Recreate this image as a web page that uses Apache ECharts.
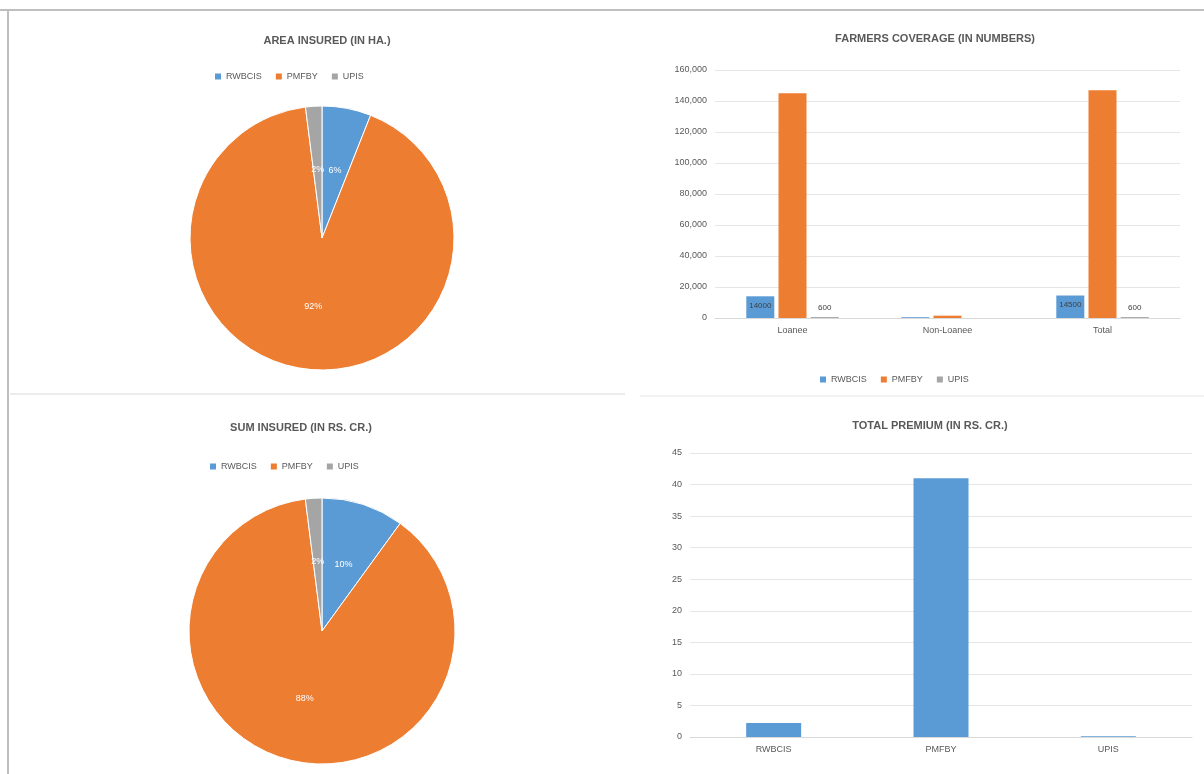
<!DOCTYPE html>
<html><head><meta charset="utf-8">
<script src="https://cdn.jsdelivr.net/npm/echarts@6/dist/echarts.min.js"></script>
<style>html,body{margin:0;padding:0;background:#fff}#c{width:1204px;height:774px}</style>
</head><body><div id="c"></div>
<script>
const schemes = ['RWBCIS', 'PMFBY', 'UPIS'];
const areaInsured = [6, 92, 2];
const sumInsured = [10, 88, 2];
const farmerCats = ['Loanee', 'Non-Loanee', 'Total'];
const farmerRWBCIS = [14000, 500, 14500];
const farmerPMFBY = [145000, 1500, 147000];
const farmerUPIS = [600, 0, 600];
const premiumCats = ['RWBCIS', 'PMFBY', 'UPIS'];
const premiumVals = [2.2, 41, 0.1];
const colors = ['#5B9BD5', '#ED7D31', '#A5A5A5'];

const chart = echarts.init(document.getElementById('c'));
const titleStyle = {fontSize: 11, fontWeight: 'bold', color: '#595959', fontFamily: 'Liberation Sans'};
const axisLbl = {fontSize: 9, color: '#595959', fontFamily: 'Liberation Sans'};
const legendText = {fontSize: 9, color: '#595959', fontFamily: 'Liberation Sans'};
function pieData(vals){ return schemes.map((n,i)=>({name:n, value:vals[i], itemStyle:{color:colors[i]}})); }
const pieLabel = {show:true, position:'inside', formatter:'{d}%', fontSize:9, color:'#fff', fontFamily:'Liberation Sans'};

chart.setOption({
  animation:false,
  color: colors,
  title: [
    {text:'AREA INSURED (IN HA.)', left:322, top:30, textAlign:'center', textStyle:titleStyle},
    {text:'FARMERS COVERAGE (IN NUMBERS)', left:930, top:28, textAlign:'center', textStyle:titleStyle},
    {text:'SUM INSURED (IN RS. CR.)', left:296, top:417, textAlign:'center', textStyle:titleStyle},
    {text:'TOTAL PREMIUM (IN RS. CR.)', left:925, top:415, textAlign:'center', textStyle:titleStyle}
  ],
  legend: [
    {data:schemes, left:210, top:67, itemWidth:6, itemHeight:6, itemGap:14, icon:'rect', textStyle:legendText},
    {data:schemes, left:205, top:457, itemWidth:6, itemHeight:6, itemGap:14, icon:'rect', textStyle:legendText},
    {data:schemes, left:815, top:370, itemWidth:6, itemHeight:6, itemGap:14, icon:'rect', textStyle:legendText}
  ],
  graphic: [
    {type:'line', shape:{x1:0,y1:10,x2:1204,y2:10}, style:{stroke:'#bfbfbf', lineWidth:2}},
    {type:'line', shape:{x1:8,y1:10,x2:8,y2:774}, style:{stroke:'#bfbfbf', lineWidth:2}},
    {type:'line', shape:{x1:10,y1:394,x2:625,y2:394}, style:{stroke:'#d9d9d9', lineWidth:1}},
    {type:'line', shape:{x1:640,y1:396,x2:1204,y2:396}, style:{stroke:'#e6e6e6', lineWidth:1}}
  ],
  grid: [
    {left:715, right:24, top:70, bottom:456},
    {left:690, right:12, top:453, bottom:37}
  ],
  xAxis: [
    {type:'category', gridIndex:0, data:farmerCats, axisTick:{show:false}, axisLine:{lineStyle:{color:'#d9d9d9'}}, axisLabel:axisLbl},
    {type:'category', gridIndex:1, data:premiumCats, axisTick:{show:false}, axisLine:{lineStyle:{color:'#d9d9d9'}}, axisLabel:axisLbl}
  ],
  yAxis: [
    {type:'value', gridIndex:0, min:0, max:160000, interval:20000, axisLabel:axisLbl, axisLine:{show:false}, axisTick:{show:false}, splitLine:{lineStyle:{color:'#e6e6e6'}}},
    {type:'value', gridIndex:1, min:0, max:45, interval:5, axisLabel:axisLbl, axisLine:{show:false}, axisTick:{show:false}, splitLine:{lineStyle:{color:'#e6e6e6'}}}
  ],
  series: [
    {type:'pie', name:'area', center:[322,238], radius:132, startAngle:90, data:pieData(areaInsured), label:pieLabel, labelLine:{show:false}, itemStyle:{borderColor:'#fff', borderWidth:1}},
    {type:'pie', name:'sum', center:[322,631], radius:133, startAngle:90, data:pieData(sumInsured), label:pieLabel, labelLine:{show:false}, itemStyle:{borderColor:'#fff', borderWidth:1}},
    {type:'bar', name:'RWBCIS', xAxisIndex:0, yAxisIndex:0, data:farmerRWBCIS, barWidth:28, barGap:'15%', itemStyle:{color:colors[0]}, label:{show:true, position:'insideTop', fontSize:8, color:'#404040', formatter:p=>p.value>=1000?p.value:''}},
    {type:'bar', name:'PMFBY', xAxisIndex:0, yAxisIndex:0, data:farmerPMFBY, barWidth:28, barGap:'15%', itemStyle:{color:colors[1]}},
    {type:'bar', name:'UPIS', xAxisIndex:0, yAxisIndex:0, data:farmerUPIS, barWidth:28, barGap:'15%', itemStyle:{color:colors[2]}, label:{show:true, position:'top', fontSize:8, color:'#404040', formatter:p=>p.value>0?p.value:''}},
    {type:'bar', name:'premium', xAxisIndex:1, yAxisIndex:1, data:premiumVals, barWidth:55, itemStyle:{color:'#5B9BD5'}}
  ]
});
</script></body></html>
